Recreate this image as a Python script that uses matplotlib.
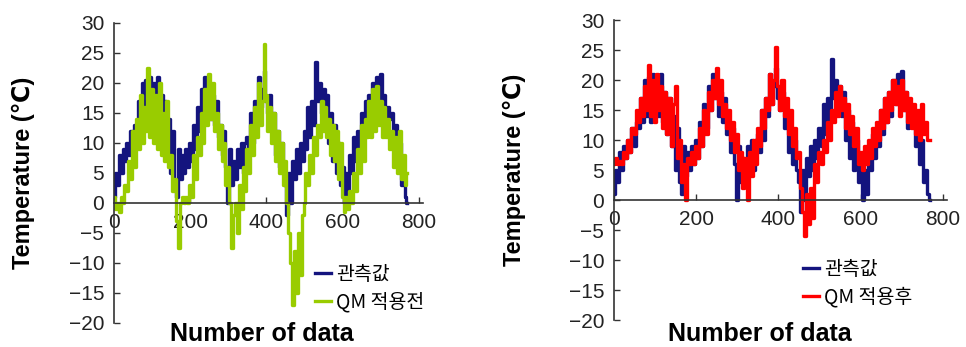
import numpy as np
import matplotlib
matplotlib.use("Agg")
import matplotlib.pyplot as plt

# ---- data (one value every 5 data points) ----
step = 5
observed = [
    1, 5, 3, 8, 5, 9, 7, 10, 8, 12,
    9, 13, 12, 17, 13, 20, 14, 20.5, 13, 21,
    15, 20, 14, 21, 13, 18, 11, 17, 9, 14,
    5, 12, 3, 1, 9, 4, 8, 5, 9, 6,
    10, 7, 13, 9, 16, 12, 19, 15, 21, 17,
    20, 14, 18, 13, 17, 11, 13, 8, 12, 6,
    0, 9, 3, 7, 4, 9, 6, 10, 5, 10,
    11, 8, 15, 10, 17, 14, 21, 16, 19, 22,
    17, 15, 18, 12, 15, 8, 12, 6, 10, 5,
    3, -2, 5, 0, 7, 4, 9, 5, 10, 7,
    12, 9, 16, 11, 17, 13, 23.5, 17, 20, 15,
    19, 14, 18, 10, 15, 7, 13, 5, 10, 3,
    6, 0, 5, 1, 8, 5, 11, 7, 12, 9,
    15, 11, 17, 13, 18, 14, 20, 16, 21, 17,
    21.5, 15, 18, 12, 16, 14, 15, 9, 13, 6,
    10, 3, 5, 1, 0,
]
qm_before = [
    1, -1, 0, -1.5, 1, 0, 3, 2, 7, 4,
    12, 6, 14, 9, 18, 10, 16, 12, 22.5, 11,
    19, 10, 18, 9, 20, 8, 15, 7, 17, 6,
    8, 2, 4, -3, -7.5, 0, 1, 0, 1, 0,
    3, 1, 8, 4, 11, 8, 15, 10, 19, 13,
    21.5, 14, 20, 12, 15, 9, 13, 7, 10, 3,
    6, 0, -7.5, -2, 0, -5, 3, -1, 6, 2,
    9, 5, 13, 8, 16, 11, 20, 13, 17, 26.5,
    18, 12, 16, 10, 15, 7, 12, 5, 10, 3,
    7, 0, -5, -10, -17, -8, -15, -5, -12, -2,
    0, 5, 3, 8, 5, 11, 8, 13, 11, 17,
    12, 16, 11, 14, 8, 13, 7, 12, 4, 10,
    1, -1.5, 1, -1, 2, 0, 5, 2, 9, 5,
    13, 7, 14, 11, 17, 11, 19, 12, 19.5, 13,
    17, 11, 16, 11, 14, 9, 12, 6, 11, 5,
    12, 4, 8, 3, 5,
]
qm_after = [
    6, 7, 6, 6.5, 6, 8, 7, 10, 8, 12,
    11, 15, 13, 17, 14, 19, 15, 22.5, 14, 20,
    13, 21, 15, 19, 12, 18, 11, 17, 9, 16,
    19, 7, 10, 3, 6, 0, 7, 6, 8, 6,
    9, 7, 12, 9, 15, 11, 18, 15, 20, 17,
    22, 16, 20, 14, 16, 12, 15, 10, 13, 8,
    11, 5, 8, 2, 7, 0, 8, 4, 10, 6,
    12, 9, 15, 12, 17, 15, 21, 16, 20, 25.5,
    19, 15, 20, 14, 17, 11, 15, 9, 12, 7,
    8, 2, -2, -6, 1, -4, 2, -3, 6, 3,
    8, 6, 10, 8, 13, 10, 15, 13, 18, 14,
    19, 15, 17, 12, 16, 11, 14, 9, 12, 6,
    8, 5, 9, 6, 10, 7, 12, 9, 13, 10,
    15, 12, 17, 13, 18, 15, 20, 16, 19, 14,
    20, 15, 18, 13, 17, 12, 16, 11, 15, 10,
    16, 11, 13, 10, 10,
]
x_ticks = [0, 200, 400, 600, 800]
y_ticks = [-20, -15, -10, -5, 0, 5, 10, 15, 20, 25, 30]
label_obs = "관측값"
label_before = "QM 적용전"
label_after = "QM 적용후"
xlabel = "Number of data"
ylabel = "Temperature (\u2103)"

x = np.arange(len(observed)) * step

C_OBS = "#14147e"
C_BEFORE = "#99cc00"
C_AFTER = "#ff0000"
SPINE = "#333333"

W, H = 966, 347
fig = plt.figure(figsize=(W / 100, H / 100), dpi=100)

def px_axes(x0, x1, ytop, ybot):
    return fig.add_axes([x0 / W, 1 - ybot / H, (x1 - x0) / W, (ybot - ytop) / H])

ax1 = px_axes(114, 114 + 810 * 0.381, 23, 323)
ax2 = px_axes(614, 614 + 810 * 0.411, 20, 320)

latin = ["Liberation Sans", "DejaVu Sans"]
kor = ["Noto Sans CJK KR", "DejaVu Sans"]

panels = [
    (ax1, qm_before, C_BEFORE, label_before, 262, 23, 114, 323, 810 * 0.381, (315, 288)),
    (ax2, qm_after, C_AFTER, label_after, 760, 514, 614, 320, 810 * 0.411, (803, 283)),
]

for ax, model, col, lab, xl_px, yl_px, ax_x0, ax_y1, ax_w, leg_xy in panels:
    l1, = ax.plot(x, observed, color=C_OBS, lw=2.4, drawstyle="steps-mid", label=label_obs)
    l2, = ax.plot(x, model, color=col, lw=2.4, drawstyle="steps-mid", label=lab)
    ax.set_xlim(0, 810)
    ax.set_ylim(-20, 30)
    ax.set_xticks(x_ticks)
    ax.set_yticks(y_ticks)
    ax.set_yticklabels([str(v).replace("-", "\u2212") for v in y_ticks])
    for s in ("top", "right"):
        ax.spines[s].set_visible(False)
    ax.spines["bottom"].set_position(("data", 0))
    for s in ("bottom", "left"):
        ax.spines[s].set_color(SPINE)
        ax.spines[s].set_linewidth(1.2)
    ax.tick_params(axis="both", direction="in", length=4, width=1, color=SPINE,
                   labelsize=15, labelcolor="#222222", pad=7)
    for t in ax.get_xticklabels() + ax.get_yticklabels():
        t.set_family(latin)
    ax.set_xlabel(xlabel, fontsize=18, fontweight="bold", family=latin)
    ax.xaxis.set_label_coords((xl_px - ax_x0) / ax_w, -(334 - ax_y1) / 300)
    ax.xaxis.label.set_va("center")
    ax.set_ylabel(ylabel, fontsize=17, fontweight="bold", family=latin)
    ax.yaxis.label.set_va("center")
    ax.yaxis.set_label_coords(-(ax_x0 - yl_px) / ax_w, 0.5)
    leg = ax.legend(handles=[l1, l2], loc="center left",
                    bbox_to_anchor=(leg_xy[0] / W, 1 - leg_xy[1] / H),
                    bbox_transform=fig.transFigure, frameon=False,
                    handlelength=0.8, handletextpad=0.3, borderpad=0,
                    borderaxespad=0, labelspacing=0.35,
                    prop={"family": kor, "size": 14})
    for h in leg.get_lines():
        h.set_linewidth(2.4)

fig.savefig("out.png", dpi=100)
